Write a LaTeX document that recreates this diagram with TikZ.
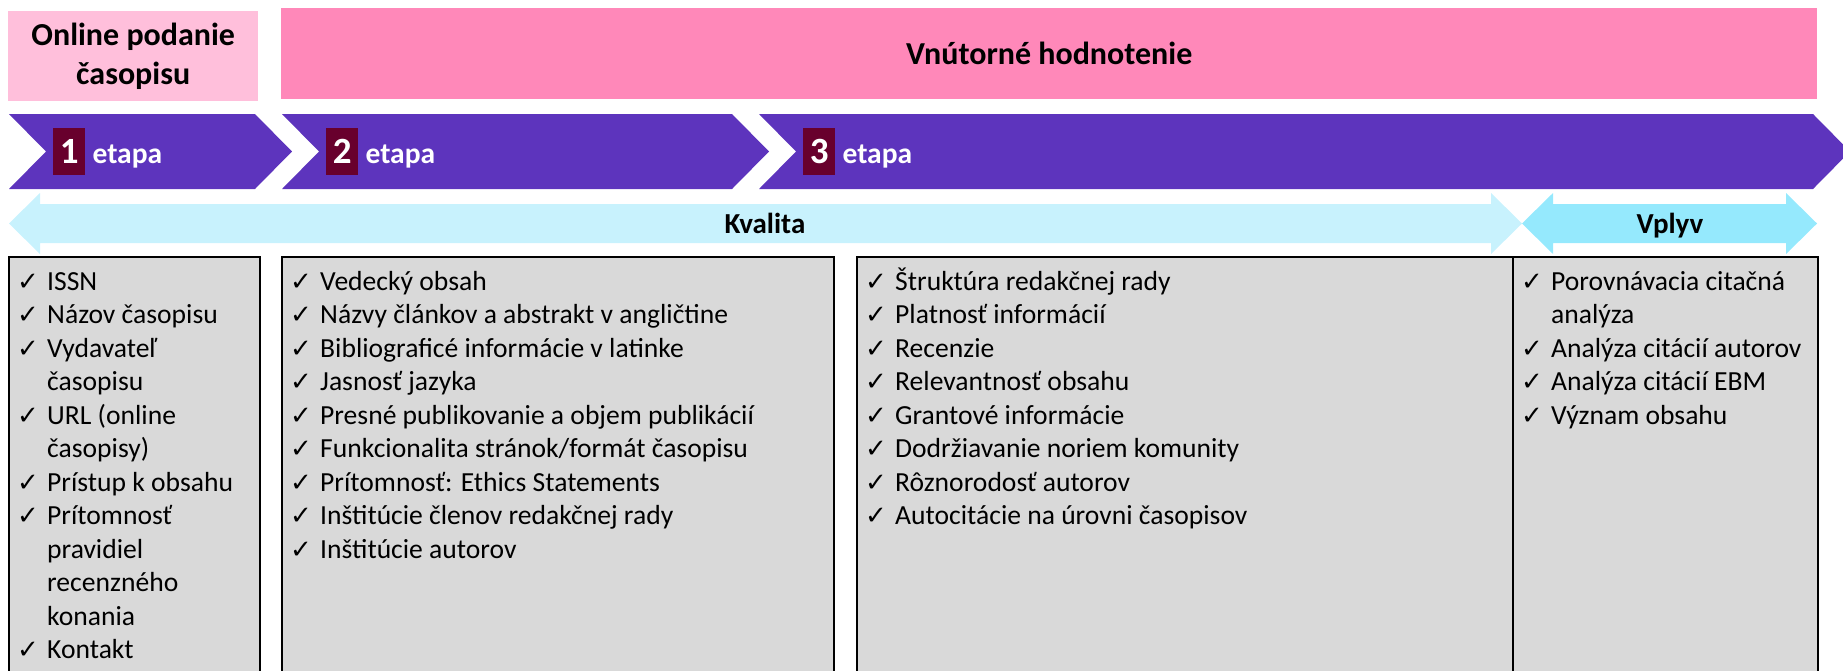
\documentclass[tikz,border=0pt]{standalone}
\usepackage{fontspec}
\setmainfont{Carlito}
\newfontfamily\checkfont{DejaVu Sans}
\usetikzlibrary{positioning}

\definecolor{lightpink}{HTML}{FFBFDB}
\definecolor{hotpink}{HTML}{FF88B9}
\definecolor{stagepurple}{HTML}{5D34BD}
\definecolor{stagemaroon}{HTML}{68002D}
\definecolor{qualitycyan}{HTML}{C8F2FD}
\definecolor{impactcyan}{HTML}{95E9FD}
\definecolor{listgrey}{HTML}{D9D9D9}

\newcommand{\chk}{\makebox[30pt][l]{\checkfont\fontsize{26}{26}\selectfont ✓}}
\newcommand{\cont}{\hspace*{30pt}}

\begin{document}
\begin{tikzpicture}[x=1pt, y=-1pt,
	every node/.style={inner sep=0pt},
	header/.style={align=center, anchor=north west, font=\fontsize{32}{39}\selectfont\bfseries},
	stagenum/.style={fill=stagemaroon, text=white, minimum width=32pt, minimum height=47pt, anchor=north west, font=\fontsize{37}{40}\selectfont\bfseries},
	stagelabel/.style={text=white, font=\fontsize{29.5}{34}\selectfont\bfseries},
	bandlabel/.style={anchor=base, font=\fontsize{29}{34}\selectfont\bfseries},
	listbox/.style={draw=black, line width=2.2pt, fill=listgrey, anchor=north west, minimum height=470pt},
	items/.style={align=left, font=\fontsize{27.6}{33.5}\selectfont}]
	\useasboundingbox (0,0) rectangle (1843,670);

	% headers
	\node[header, fill=lightpink, minimum width=250pt, minimum height=90pt] (submit) at (8,11) {Online podanie\\časopisu};
	\node[header, fill=hotpink, minimum width=1536pt, minimum height=91pt] (internal) at (281,8) {Vnútorné hodnotenie};

	% stages
	\foreach \s/\e [count=\i] in {9/255, 282/732, 759/1813} {
		\fill[stagepurple] (\s,114) -- (\e,114) -- ++(37,37.5) -- (\e,189) -- (\s,189) -- ++(37,-37.5) -- cycle;
		\node[stagenum] (num\i) at (\s+44,128) {\i};
		\node[stagelabel, base right=7pt of num\i] (etapa\i) {etapa};
	}

	% quality / impact bands
	\foreach \a/\b/\c in {9/1522/qualitycyan, 1522/1817/impactcyan}
		\fill[\c] (\a,223.5) -- (\a+31,193) -- (\a+31,204) -- (\b-31,204) -- (\b-31,193) -- (\b,223.5)
			-- (\b-31,254) -- (\b-31,243) -- (\a+31,243) -- (\a+31,254) -- cycle;
	\node[bandlabel] (quality) at (765,233) {Kvalita};
	\node[bandlabel] (impact) at (1670,233) {Vplyv};

	% criteria boxes
	\node[listbox, minimum width=251pt] (boxA) at (8,256) {};
	\node[listbox, minimum width=552pt] (boxB) at (281,256) {};
	\node[listbox, minimum width=656pt] (boxC) at (856,256) {};
	\node[listbox, minimum width=305pt] (boxD) at (1512,256) {};

	\node[items, below right=10.5pt and 9pt of boxA.north west] (listA) {\strut\chk ISSN\\
		\chk Názov časopisu\\
		\chk Vydavateľ\\
		\cont časopisu\\
		\chk URL (online\\
		\cont časopisy)\\
		\chk Prístup k obsahu\\
		\chk Prítomnosť\\
		\cont pravidiel\\
		\cont recenzného\\
		\cont konania\\
		\chk Kontakt};
	\node[items, below right=10.5pt and 9pt of boxB.north west] (listB) {\strut\chk Vedecký obsah\\
		\chk Názvy článkov a abstrakt v angličtine\\
		\chk Bibliograficé informácie v latinke\\
		\chk Jasnosť jazyka\\
		\chk Presné publikovanie a objem publikácií\\
		\chk Funkcionalita stránok/formát časopisu\\
		\chk Prítomnosť: Ethics Statements\\
		\chk Inštitúcie členov redakčnej rady\\
		\chk Inštitúcie autorov};
	\node[items, below right=10.5pt and 9pt of boxC.north west] (listC) {\strut\chk Štruktúra redakčnej rady\\
		\chk Platnosť informácií\\
		\chk Recenzie\\
		\chk Relevantnosť obsahu\\
		\chk Grantové informácie\\
		\chk Dodržiavanie noriem komunity\\
		\chk Rôznorodosť autorov\\
		\chk Autocitácie na úrovni časopisov};
	\node[items, below right=10.5pt and 9pt of boxD.north west] (listD) {\strut\chk Porovnávacia citačná\\
		\cont analýza\\
		\chk Analýza citácií autorov\\
		\chk Analýza citácií EBM\\
		\chk Význam obsahu};
\end{tikzpicture}
\end{document}
